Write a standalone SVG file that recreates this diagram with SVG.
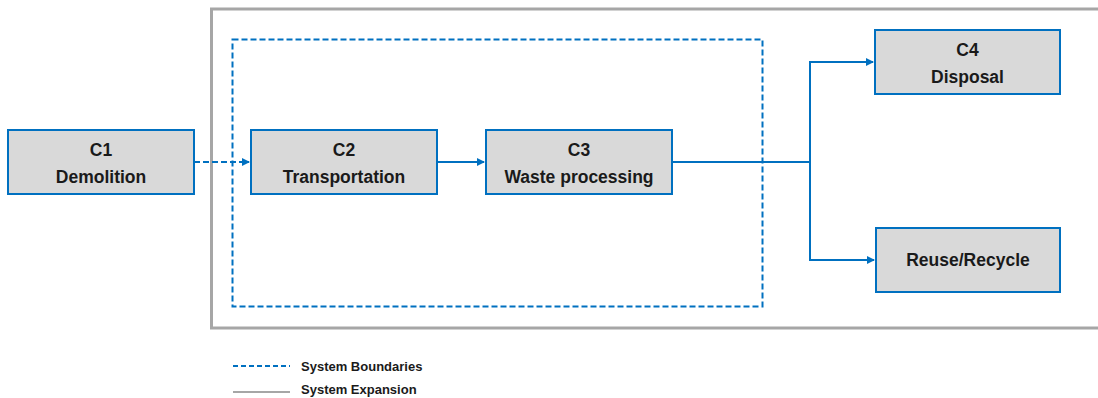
<svg xmlns="http://www.w3.org/2000/svg" width="1098" height="398" viewBox="0 0 1098 398">
<style>
.node{fill:#d9d9d9;stroke:#0070c0;stroke-width:2}
.lbl{font-family:"Liberation Sans",Arial,sans-serif;font-weight:bold;font-size:17.5px;fill:#1a1a1a;text-anchor:middle}
.leg{font-family:"Liberation Sans",Arial,sans-serif;font-weight:bold;font-size:13px;fill:#1a1a1a}
.conn{fill:none;stroke:#0070c0;stroke-width:2}
</style>
<defs>
<marker id="arr" markerWidth="8" markerHeight="8" refX="7" refY="4" orient="auto" markerUnits="userSpaceOnUse">
<path d="M0,0 L8,4 L0,8 Z" fill="#0070c0"/>
</marker>
</defs>
<rect width="1098" height="398" fill="#ffffff"/>
<g id="boundaries">
<rect x="211.5" y="9" width="888" height="319" fill="none" stroke="#a6a6a6" stroke-width="3"/>
<rect x="232.5" y="39.5" width="530" height="267" fill="none" stroke="#0070c0" stroke-width="2" stroke-dasharray="6,3"/>
</g>
<g id="connectors">
<path class="conn" d="M194,162 H249" stroke-dasharray="6,3" marker-end="url(#arr)"/>
<path class="conn" d="M437,162 H484" marker-end="url(#arr)"/>
<path class="conn" d="M672,162 H810"/>
<path class="conn" d="M810,260 V62 H873" marker-end="url(#arr)"/>
<path class="conn" d="M810,162 V260 H874" marker-end="url(#arr)"/>
</g>
<g id="c1">
<rect class="node" x="8" y="130" width="186" height="64"/>
<text class="lbl" x="101" y="156">C1</text>
<text class="lbl" x="101" y="183">Demolition</text>
</g>
<g id="c2">
<rect class="node" x="251" y="130" width="186" height="64"/>
<text class="lbl" x="344" y="156">C2</text>
<text class="lbl" x="344" y="183">Transportation</text>
</g>
<g id="c3">
<rect class="node" x="486" y="130" width="186" height="64"/>
<text class="lbl" x="579" y="156">C3</text>
<text class="lbl" x="579" y="183">Waste processing</text>
</g>
<g id="c4">
<rect class="node" x="875" y="30" width="185" height="64"/>
<text class="lbl" x="967.5" y="56">C4</text>
<text class="lbl" x="967.5" y="83">Disposal</text>
</g>
<g id="reuse">
<rect class="node" x="876" y="228" width="184" height="64"/>
<text class="lbl" x="968" y="266">Reuse/Recycle</text>
</g>
<g id="legend">
<line x1="233" y1="366" x2="290" y2="366" stroke="#0070c0" stroke-width="2" stroke-dasharray="5,3"/>
<text class="leg" x="301" y="371">System Boundaries</text>
<line x1="233" y1="392" x2="290" y2="392" stroke="#a6a6a6" stroke-width="2"/>
<text class="leg" x="301" y="394">System Expansion</text>
</g>
</svg>
